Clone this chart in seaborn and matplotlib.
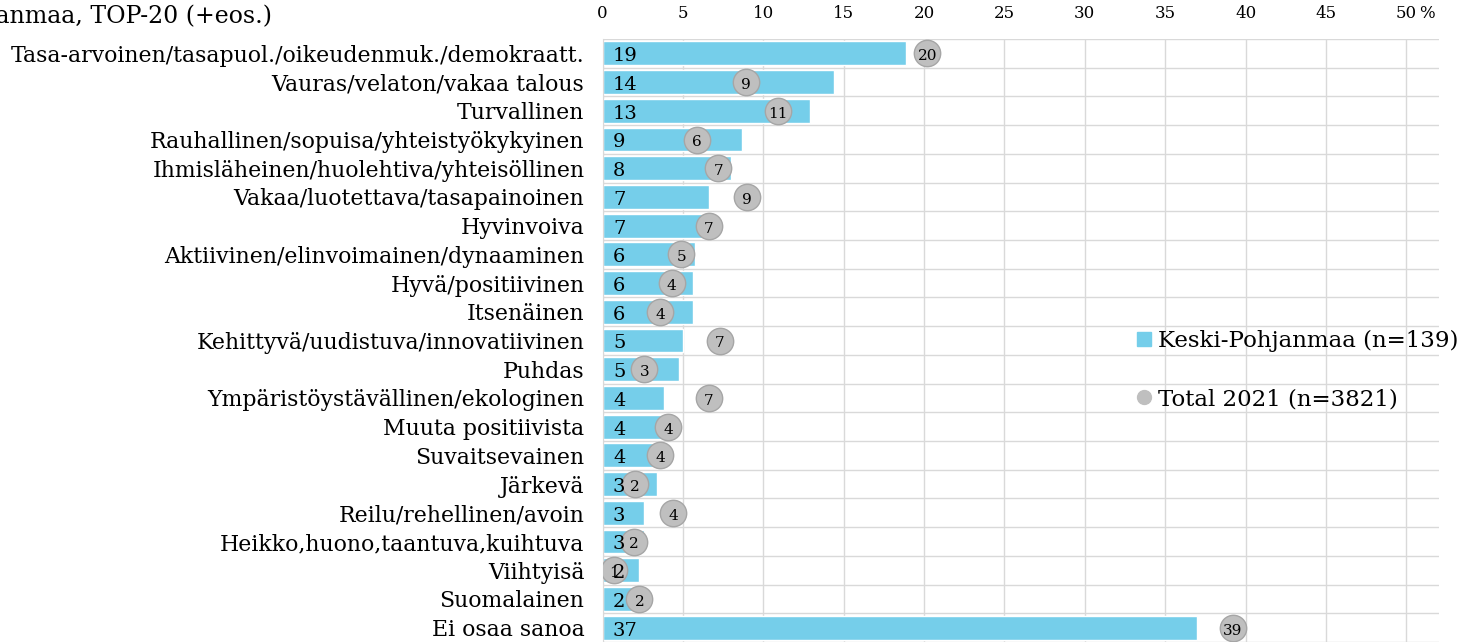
import numpy as np
import pandas as pd
import matplotlib
matplotlib.use("Agg")
import matplotlib.pyplot as plt
from matplotlib.lines import Line2D
import seaborn as sns

categories = [
    "Tasa-arvoinen/tasapuol./oikeudenmuk./demokraatt.",
    "Vauras/velaton/vakaa talous",
    "Turvallinen",
    "Rauhallinen/sopuisa/yhteistyökykyinen",
    "Ihmisläheinen/huolehtiva/yhteisöllinen",
    "Vakaa/luotettava/tasapainoinen",
    "Hyvinvoiva",
    "Aktiivinen/elinvoimainen/dynaaminen",
    "Hyvä/positiivinen",
    "Itsenäinen",
    "Kehittyvä/uudistuva/innovatiivinen",
    "Puhdas",
    "Ympäristöystävällinen/ekologinen",
    "Muuta positiivista",
    "Suvaitsevainen",
    "Järkevä",
    "Reilu/rehellinen/avoin",
    "Heikko,huono,taantuva,kuihtuva",
    "Viihtyisä",
    "Suomalainen",
    "Ei osaa sanoa",
]
keski_pohjanmaa = [18.9, 14.4, 12.9, 8.7, 8.0, 6.6, 6.6, 5.75, 5.6, 5.6, 5.0,
                   4.75, 3.8, 3.8, 3.6, 3.4, 2.6, 2.6, 2.3, 1.95, 37.0]
total_2021 = [20.2, 8.9, 10.9, 5.9, 7.2, 9.0, 6.6, 4.9, 4.3, 3.6, 7.3,
              2.6, 6.6, 4.1, 3.6, 2.0, 4.4, 1.95, 0.7, 2.3, 39.2]
x_ticks = list(range(0, 51, 5))

label_kp = "Keski-Pohjanmaa (n=139)"
label_total = "Total 2021 (n=3821)"
title = "Keski-Pohjanmaa, TOP-20 (+eos.)"

bar_color = "#75CEEA"
dot_color = "#BFBFBF"
dot_edge = "#A6A6A6"
grid_color = "#D9D9D9"

df = pd.DataFrame({"cat": categories, "kp": keski_pohjanmaa, "total": total_2021})

sns.set_style("white")
plt.rcParams["font.family"] = ["DejaVu Serif"]
plt.rcParams["text.color"] = "black"
plt.rcParams["xtick.color"] = "black"
plt.rcParams["ytick.color"] = "black"

fig = plt.figure(figsize=(14.73, 6.42), dpi=100)
ax = fig.add_axes([602.5 / 1473, 0, 836 / 1473, 603 / 642])

sns.barplot(data=df, x="kp", y="cat", orient="h", color=bar_color, saturation=1,
            width=0.83, errorbar=None, ax=ax, zorder=2)
sns.stripplot(data=df, x="total", y="cat", orient="h", jitter=False, size=19,
              color=dot_color, edgecolor=dot_edge, linewidth=1, ax=ax, zorder=3)

# value labels: left inside the bar, and centred on each dot
for i, v in enumerate(keski_pohjanmaa):
    ax.text(0.65, i + 0.1, f"{v:.0f}", ha="left", va="center", fontsize=14, zorder=4)
for i, v in enumerate(total_2021):
    ax.text(v, i + 0.1, f"{v:.0f}", ha="center", va="center", fontsize=11, zorder=4)

ax.set_xlim(0, 52)
ax.set_ylim(len(categories) - 0.5, -0.5)
ax.xaxis.tick_top()
ax.set_xticks(x_ticks)
ax.set_xticklabels([str(t) for t in x_ticks], fontsize=12)
ax.tick_params(axis="x", length=0, pad=12)
ax.tick_params(axis="y", length=0, pad=13, labelsize=15.8)
ax.set_xlabel("")
ax.set_ylabel("")
fig.text(1419 / 1473, 1 - 14 / 642, "%", ha="left", va="center", fontsize=12)

ax.set_yticks(np.arange(-0.5, len(categories), 1), minor=True)
ax.tick_params(axis="y", which="minor", length=0)
ax.grid(axis="x", color=grid_color, linewidth=1)
ax.grid(axis="y", which="minor", color=grid_color, linewidth=1)
ax.grid(axis="y", which="major", visible=False)
ax.set_axisbelow(True)
for s in ["top", "right", "bottom"]:
    ax.spines[s].set_visible(False)
ax.spines["left"].set_color(grid_color)

handles = [
    Line2D([], [], marker="s", linestyle="none", markersize=10,
           markerfacecolor=bar_color, markeredgecolor=bar_color),
    Line2D([], [], marker="o", linestyle="none", markersize=10,
           markerfacecolor=dot_color, markeredgecolor=dot_color),
]
fig.legend(handles, [label_kp, label_total], loc="upper left",
           bbox_to_anchor=(1136 / 1473, 1 - 330 / 642), frameon=False,
           fontsize=16.5, handlelength=0.7, handletextpad=0.25, labelspacing=1.58,
           borderpad=0, borderaxespad=0)

fig.text(272 / 1473, 1 - 16 / 642, title, ha="right", va="center", fontsize=17)

fig.savefig("out.png", dpi=100)
